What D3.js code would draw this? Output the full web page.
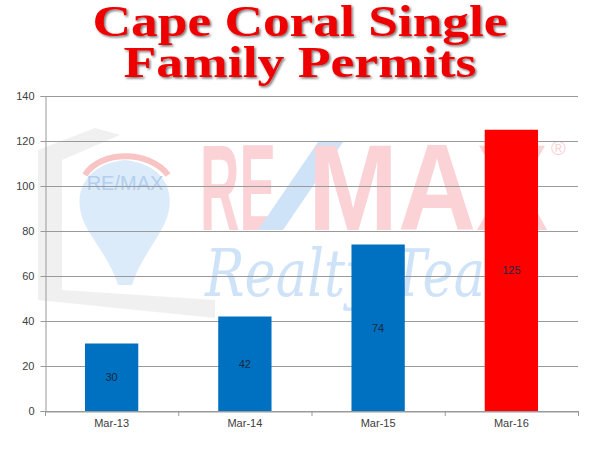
<!DOCTYPE html>
<html>
<head>
<meta charset="utf-8">
<script src="https://cdn.jsdelivr.net/npm/d3@7"></script>
<style>
  html, body { margin: 0; padding: 0; background: #fff; }
  svg { display: block; }
</style>
</head>
<body>
<svg id="chart" width="600" height="450"></svg>
<script>
// Permit counts by month
const categories = ["Mar-13", "Mar-14", "Mar-15", "Mar-16"];
const permits = [30, 42, 74, 125];
const barColors = ["#0070c0", "#0070c0", "#0070c0", "#ff0000"];
const yTicks = [0, 20, 40, 60, 80, 100, 120, 140];
const titleLines = ["Cape Coral Single", "Family Permits"];

const svg = d3.select("#chart");
const margin = { left: 45, right: 22, top: 96, bottom: 39 };
const W = 600, H = 450;

const x = d3.scaleBand().domain(categories).range([margin.left, W - margin.right]).paddingInner(0.6).paddingOuter(0.3);
const band = d3.scaleBand().domain(categories).range([margin.left, W - margin.right]);
const y = d3.scaleLinear().domain([0, 140]).range([H - margin.bottom, margin.top]);

const sans = "Liberation Sans, Arial, sans-serif";

// Background watermark
const wm = svg.append("g").attr("class", "watermark");
// faded frame at left
wm.append("path")
  .attr("d", "M38,300 L38,150 L95,128 L120,135 L62,160 L62,290 L215,300 L215,318 Z")
  .attr("fill", "#ececec").attr("opacity", 0.8);
// balloon
wm.append("path")
  .attr("d", "M88,230 C70,200 80,165 125,160 C170,165 180,200 160,232 C150,250 138,265 132,285 L118,285 C112,265 100,250 88,230 Z")
  .attr("fill", "#d3e6f8").attr("opacity", 0.8);
wm.append("path")
  .attr("d", "M85,175 C100,150 150,150 168,175")
  .attr("fill", "none").attr("stroke", "#f8c4c4").attr("stroke-width", 6);
wm.append("text").attr("x", 125).attr("y", 190).attr("text-anchor", "middle")
  .attr("font-family", sans).attr("font-size", 20)
  .attr("fill", "#b3cfee").text("RE/MAX");
// large wordmark
wm.append("text").attr("x", 200).attr("y", 230)
  .attr("font-family", sans).attr("font-weight", "bold")
  .attr("font-size", 123).attr("textLength", 76).attr("lengthAdjust", "spacingAndGlyphs")
  .attr("fill", "#fbd3d6").text("RE");
wm.append("path")
  .attr("d", "M258,230 L318,142 L343,142 L283,230 Z")
  .attr("fill", "#cfe3f8");
wm.append("text").attr("x", 308).attr("y", 230)
  .attr("font-family", sans).attr("font-weight", "bold")
  .attr("font-size", 123).attr("textLength", 240).attr("lengthAdjust", "spacingAndGlyphs")
  .attr("fill", "#fbd3d6").text("MAX");
wm.append("text").attr("x", 551).attr("y", 155)
  .attr("font-family", sans).attr("font-size", 20)
  .attr("fill", "#fbd3d6").text("®");
wm.append("text").attr("x", 205).attr("y", 296)
  .attr("font-family", "DejaVu Serif, serif").attr("font-style", "italic")
  .attr("font-size", 66).attr("textLength", 330).attr("lengthAdjust", "spacingAndGlyphs")
  .attr("fill", "#cfe3f8").text("Realty Team");

// Gridlines
svg.append("g")
  .selectAll("line").data(yTicks).join("line")
  .attr("x1", margin.left).attr("x2", W - margin.right)
  .attr("y1", d => y(d) + 0.5).attr("y2", d => y(d) + 0.5)
  .attr("stroke", "#999").attr("stroke-width", 1);

// Y axis
const yAxis = svg.append("g")
  .attr("transform", `translate(${margin.left + 0.5},0)`)
  .call(d3.axisLeft(y).tickValues(yTicks).tickSize(5).tickPadding(6));
yAxis.select(".domain").attr("stroke", "#999");
yAxis.selectAll(".tick line").attr("stroke", "#999");
yAxis.selectAll("text").attr("fill", "#404040")
  .attr("font-family", sans).attr("font-size", 11);

// X axis
const xAxis = svg.append("g")
  .attr("transform", `translate(0,${y(0) + 0.5})`)
  .call(d3.axisBottom(band).tickSize(0).tickPadding(8));
xAxis.select(".domain").attr("stroke", "#999");
xAxis.selectAll("text").attr("fill", "#404040")
  .attr("font-family", sans).attr("font-size", 11);
// category separators
svg.append("g").selectAll("line")
  .data(categories.map(c => band(c)).concat([W - margin.right]))
  .join("line")
  .attr("x1", d => d + 0.5).attr("x2", d => d + 0.5)
  .attr("y1", y(0)).attr("y2", y(0) + 5)
  .attr("stroke", "#999");

// Bars
svg.append("g").selectAll("rect")
  .data(permits).join("rect")
  .attr("x", (d, i) => x(categories[i]))
  .attr("width", x.bandwidth())
  .attr("y", d => y(d))
  .attr("height", d => y(0) - y(d))
  .attr("fill", (d, i) => barColors[i]);

// Value labels in bar centres
svg.append("g").selectAll("text")
  .data(permits).join("text")
  .attr("x", (d, i) => x(categories[i]) + x.bandwidth() / 2)
  .attr("y", d => (y(d) + y(0)) / 2 + 4)
  .attr("text-anchor", "middle")
  .attr("font-family", sans).attr("font-size", 11)
  .attr("fill", "#1a2a40")
  .text(d => d);

// Title with drop shadow
const defs = svg.append("defs");
const f = defs.append("filter").attr("id", "shadow")
  .attr("filterUnits", "userSpaceOnUse")
  .attr("x", 0).attr("y", 0).attr("width", W).attr("height", 100);
f.append("feDropShadow").attr("dx", 1.5).attr("dy", 1.5).attr("stdDeviation", 1).attr("flood-color", "#000").attr("flood-opacity", 0.55);

const titleWidths = [415, 353];
svg.append("g").attr("filter", "url(#shadow)")
  .selectAll("text")
  .data(titleLines).join("text")
  .attr("x", (d, i) => 300 - titleWidths[i] / 2)
  .attr("y", (d, i) => 36 + i * 41)
  .attr("textLength", (d, i) => titleWidths[i])
  .attr("lengthAdjust", "spacingAndGlyphs")
  .attr("font-family", "Liberation Serif, Times New Roman, serif")
  .attr("font-weight", "bold").attr("font-size", 44)
  .attr("fill", "#ee0000")
  .text(d => d);
</script>
</body>
</html>
